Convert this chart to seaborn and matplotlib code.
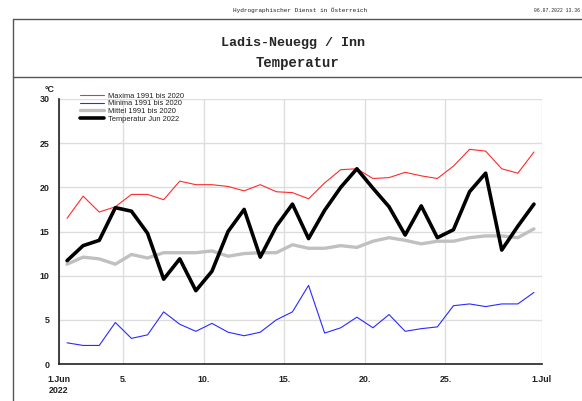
import matplotlib
matplotlib.use("Agg")
import matplotlib.pyplot as plt
from matplotlib.lines import Line2D
from matplotlib.ticker import MultipleLocator, FixedLocator
import numpy as np
import pandas as pd
import seaborn as sns

# Day of month (June 2022); each value is plotted in the middle of its day
days = list(range(1, 31))

maxima = [16.5, 19.0, 17.2, 17.8, 19.2, 19.2, 18.6, 20.7, 20.3, 20.3,
          20.1, 19.6, 20.3, 19.5, 19.4, 18.7, 20.5, 22.0, 22.1, 21.0,
          21.1, 21.7, 21.3, 21.0, 22.4, 24.3, 24.1, 22.1, 21.6, 24.0]

minima = [2.4, 2.1, 2.1, 4.7, 2.9, 3.3, 5.9, 4.5, 3.7, 4.6,
          3.6, 3.2, 3.6, 5.0, 5.9, 8.9, 3.5, 4.1, 5.3, 4.1,
          5.6, 3.7, 4.0, 4.2, 6.6, 6.8, 6.5, 6.8, 6.8, 8.1]

mittel = [11.3, 12.1, 11.9, 11.3, 12.4, 12.0, 12.6, 12.6, 12.6, 12.8,
          12.2, 12.5, 12.6, 12.6, 13.5, 13.1, 13.1, 13.4, 13.2, 13.9,
          14.3, 14.0, 13.6, 13.9, 13.9, 14.3, 14.5, 14.5, 14.3, 15.3]

temperatur = [11.7, 13.4, 14.0, 17.7, 17.3, 14.8, 9.6, 11.9, 8.3, 10.5,
              15.0, 17.5, 12.1, 15.6, 18.1, 14.2, 17.4, 20.0, 22.1, 19.9,
              17.8, 14.6, 17.9, 14.3, 15.2, 19.5, 21.6, 12.9, 15.6, 18.1]

series_names = ["Maxima 1991 bis 2020", "Minima 1991 bis 2020",
                "Mittel 1991 bis 2020", "Temperatur Jun 2022"]
series_colors = ["#ff2a2a", "#2a2aff", "#c0c0c0", "#000000"]
series_widths = [0.8, 0.8, 2.4, 2.6]

tick_days = [0, 4, 9, 14, 19, 24, 30]
tick_labels = ["1.Jun\n2022", "5.", "10.", "15.", "20.", "25.", "1.Jul"]

header = "Hydrographischer Dienst in Österreich"
stamp = "06.07.2022 13.36"
title = "Ladis-Neuegg / Inn"
subtitle = "Temperatur"

df = pd.DataFrame({
    "x": np.array(days) - 0.5,
    series_names[0]: maxima,
    series_names[1]: minima,
    series_names[2]: mittel,
    series_names[3]: temperatur,
})

sns.set_theme(style="white")
plt.rcParams["font.family"] = ["Liberation Sans", "DejaVu Sans"]

W, H = 582, 401
fig = plt.figure(figsize=(W / 100, H / 100), dpi=100)
fig.patch.set_facecolor("white")


def fx(px):
    return px / W


def fy(py):
    return 1 - py / H


# Page frame and title box
frame_kw = dict(color="#555555", lw=1.0, transform=fig.transFigure)
fig.add_artist(Line2D([fx(13), fx(13)], [fy(19), 0], **frame_kw))
fig.add_artist(Line2D([fx(13), 1], [fy(19), fy(19)], **frame_kw))
fig.add_artist(Line2D([fx(13), 1], [fy(77), fy(77)], **frame_kw))

fig.text(fx(300), fy(10), header, ha="center", va="center",
         family="Liberation Mono", fontsize=4.4, color="#222222")
fig.text(fx(580), fy(10), stamp, ha="right", va="center",
         family="Liberation Mono", fontsize=3.4, color="#222222")
fig.text(fx(293), fy(43), title, ha="center", va="center",
         family="Liberation Mono", fontweight="bold", fontsize=9.6)
fig.text(fx(297), fy(63), subtitle, ha="center", va="center",
         family="Liberation Mono", fontweight="bold", fontsize=10)

ax = fig.add_axes([fx(59), fy(364), fx(542) - fx(59), fy(99) - fy(364)])
ax.set_facecolor("white")

for name, col, lw in zip(series_names, series_colors, series_widths):
    sns.lineplot(data=df, x="x", y=name, color=col, linewidth=lw,
                 ax=ax, label=name, zorder=3 if name.startswith("Temp") else 2)

ax.set_xlim(0, 30)
ax.set_ylim(0, 30)
ax.set_xlabel("")
ax.set_ylabel("")

ax.xaxis.set_major_locator(FixedLocator(tick_days))
ax.set_xticklabels(tick_labels)
ax.xaxis.set_minor_locator(MultipleLocator(1))
ax.yaxis.set_major_locator(MultipleLocator(5))
ax.yaxis.set_minor_locator(MultipleLocator(1))

ax.grid(True, which="major", color="#dddddd", lw=1.0, zorder=0)
ax.set_axisbelow(True)

for side in ("top", "right"):
    ax.spines[side].set_visible(False)
for side in ("left", "bottom"):
    ax.spines[side].set_color("#222222")
    ax.spines[side].set_linewidth(1.2)

ax.tick_params(axis="both", which="major", direction="out", length=5,
               width=1.0, color="#222222", labelsize=6.4, pad=2)
ax.tick_params(axis="both", which="minor", direction="out", length=3,
               width=0.8, color="#222222")
ax.tick_params(axis="x", which="major", length=6)
for lab in ax.get_xticklabels() + ax.get_yticklabels():
    lab.set_fontweight("bold")
    lab.set_color("#222222")

fig.text(fx(45), fy(90), "°C", ha="left", va="center", fontsize=6.4,
         fontweight="bold", color="#222222")

leg = ax.legend(loc="upper left", bbox_to_anchor=(fx(80), fy(92.5)),
                bbox_transform=fig.transFigure, frameon=False, fontsize=5.4,
                handlelength=3.2, handletextpad=0.5, labelspacing=0.05,
                borderaxespad=0, borderpad=0)
for t in leg.get_texts():
    t.set_color("#222222")

fig.savefig("out.png", dpi=100, facecolor="white")
